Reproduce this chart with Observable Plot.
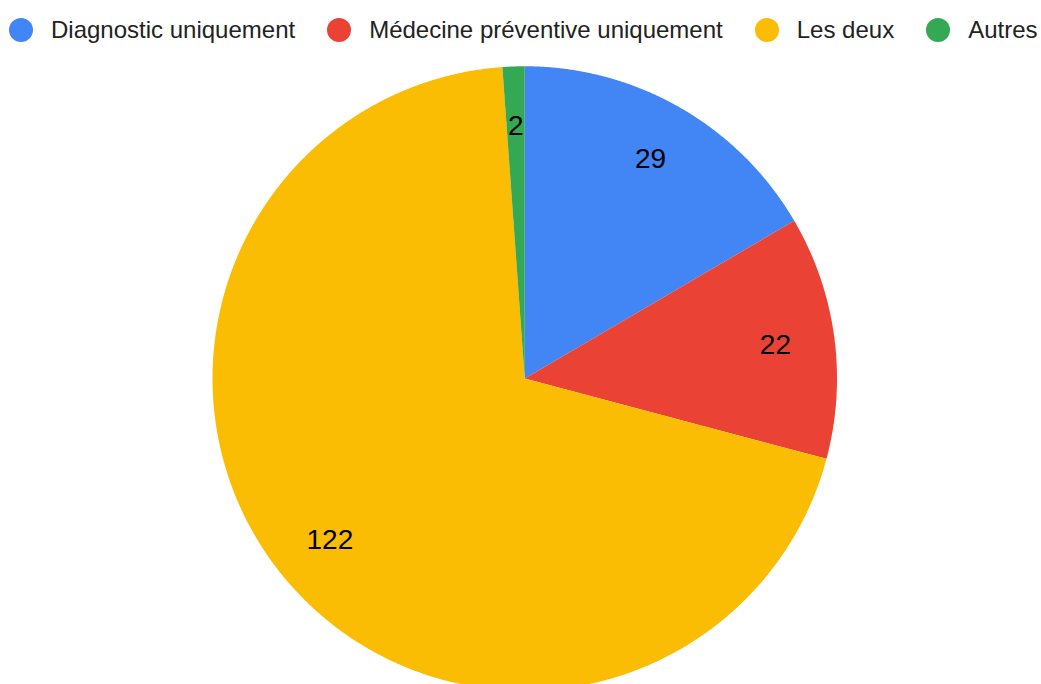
<!DOCTYPE html>
<html>
<head>
<meta charset="utf-8">
<script src="https://cdn.jsdelivr.net/npm/d3@7"></script>
<script src="https://cdn.jsdelivr.net/npm/@observablehq/plot@0.6"></script>
<style>
  html, body { margin: 0; padding: 0; background: #ffffff; }
  body { width: 1041px; height: 684px; overflow: hidden; font-family: "Liberation Sans", Arial, sans-serif; }
  #legend { height: 56px; position: relative; display: flex; align-items: flex-start; padding-left: 9px; box-sizing: border-box; }
  .item { display: flex; align-items: center; margin-top: 17px; margin-right: 32px; }
  .sw { width: 24px; height: 24px; border-radius: 50%; margin-right: 18px; flex: none; }
  .lab { font-size: 24px; color: #222222; line-height: 25px; white-space: nowrap; }
  #chart svg { display: block; }
</style>
</head>
<body>
<div id="legend"></div>
<div id="chart"></div>
<script>
// ---- data ----
const categories = ["Diagnostic uniquement", "Médecine préventive uniquement", "Les deux", "Autres"];
const values = [29, 22, 122, 2];
const colors = ["#4285F4", "#EA4335", "#FBBC04", "#34A853"];

// ---- layout ----
const W = 1041, H = 628;
const cx = 524.25, cy = 322, R = 312.25;
const labelFrac = 0.81;

// legend
const legend = document.getElementById("legend");
categories.forEach((c, i) => {
  const it = document.createElement("div");
  it.className = "item";
  const sw = document.createElement("div");
  sw.className = "sw";
  sw.style.background = colors[i];
  const lb = document.createElement("span");
  lb.className = "lab";
  lb.textContent = c;
  it.appendChild(sw); it.appendChild(lb);
  legend.appendChild(it);
});

// pie geometry in unit coordinates (y up), start at 12 o'clock, clockwise
const arcs = d3.pie().sort(null).value(d => d.value)(
  categories.map((c, i) => ({cat: c, value: values[i]}))
);
const wedgePts = [];
const labels = [];
arcs.forEach(a => {
  const c = a.data.cat;
  wedgePts.push({cat: c, x: 0, y: 0});
  const n = Math.max(2, Math.ceil((a.endAngle - a.startAngle) / (Math.PI / 720)));
  for (let k = 0; k <= n; k++) {
    const t = a.startAngle + (a.endAngle - a.startAngle) * k / n;
    wedgePts.push({cat: c, x: Math.sin(t), y: Math.cos(t)});
  }
  wedgePts.push({cat: c, x: 0, y: 0});
  const m = (a.startAngle + a.endAngle) / 2;
  labels.push({cat: c, value: a.data.value, x: labelFrac * Math.sin(m), y: labelFrac * Math.cos(m)});
});

const chart = Plot.plot({
  width: W,
  height: H,
  margin: 0,
  style: {background: "#ffffff", fontFamily: "'Liberation Sans', Arial, sans-serif"},
  x: {domain: [-cx / R, (W - cx) / R], axis: null},
  y: {domain: [-(H - cy) / R, cy / R], axis: null},
  color: {domain: categories, range: colors},
  marks: [
    Plot.line(wedgePts, {x: "x", y: "y", z: "cat", fill: "cat", stroke: "none", curve: "linear"}),
    Plot.text(labels, {x: "x", y: "y", text: d => String(d.value), fill: "#000000", fontSize: 28})
  ]
});
document.getElementById("chart").appendChild(chart);
</script>
</body>
</html>
